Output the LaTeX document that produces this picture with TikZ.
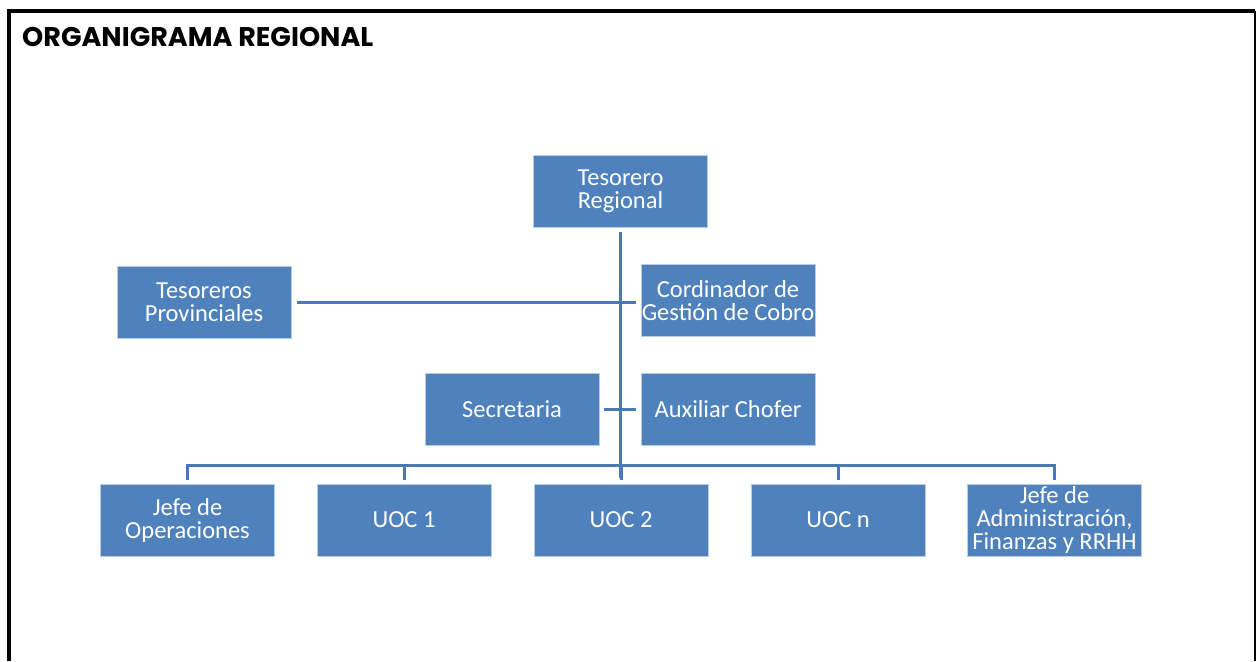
\documentclass[tikz,border=0pt]{standalone}
\usepackage{fontspec}
\setmainfont{Carlito}
\newfontfamily\titlefont{Poppins}
\definecolor{boxblue}{HTML}{4F81BD}
\definecolor{lineblue}{HTML}{4A7AB5}
\begin{document}
\begin{tikzpicture}[x=1pt,y=-1pt]
    \def\boxw{174}
    \def\boxh{72}
    \def\busy{465}
    \tikzstyle{unit}=[fill=boxblue, draw=boxblue!40, line width=0.6pt,
        minimum width=\boxw pt, minimum height=\boxh pt, inner sep=0pt,
        align=center, text=white, font=\fontsize{24.5}{23}\selectfont]
    \tikzstyle{link}=[draw=lineblue, line width=3pt]

    \useasboundingbox (0,0) rectangle (1257,661);

    % Draw the frame (open at the bottom)
    \draw[line width=3.5pt] (9,661) -- (9,11) -- (1255,11);
    \draw[line width=1.6pt] (1255,11) -- (1255,661);
    \node[anchor=base west, inner sep=0pt, font=\titlefont\bfseries\fontsize{27}{27}\selectfont]
        (title) at (22,47) {ORGANIGRAMA REGIONAL};

    % Draw the head and the staff nodes
    \node[unit] (TR) at (620.5,191.5) {Tesorero\\Regional};
    \node[unit] (TP) at (204,302) {Tesoreros\\Provinciales};
    \node[unit] (CG) at (728,300.5) {Cordinador de\\Gestión de Cobro};
    \node[unit] (SE) at (512,409) {Secretaria};
    \node[unit] (AC) at (728,409) {Auxiliar Chofer};

    % Draw the bottom row of nodes
    \foreach \name/\x/\txt in {JO/187.5/{Jefe de\\Operaciones},
                               U1/404/{UOC 1},
                               U2/621/{UOC 2},
                               UN/838/{UOC n},
                               JA/1054.5/{Jefe de\\Administración,\\Finanzas y RRHH}}
        \node[unit] (\name) at (\x,520) {\txt};

    % Trunk from the head down through the bus
    \coordinate (bus) at (621,\busy);
    \draw[link, shorten <=4pt] (TR.south) -- ([yshift=-13pt]TR.south |- bus);

    % Staff lines crossing the trunk
    \draw[link, shorten <=6pt, shorten >=5pt] (TP.east) -- (TP.east -| CG.west);
    \draw[link, shorten <=5pt, shorten >=5pt] (SE.east) -- (AC.west);

    % Connect the bus with every node in the bottom row
    \draw[link, line cap=rect] (JO.north |- bus) -- (JA.north |- bus);
    \foreach \dest in {JO,U1,U2,UN,JA}
        \draw[link, shorten <=4pt] (\dest.north) -- (\dest.north |- bus);
\end{tikzpicture}
\end{document}
